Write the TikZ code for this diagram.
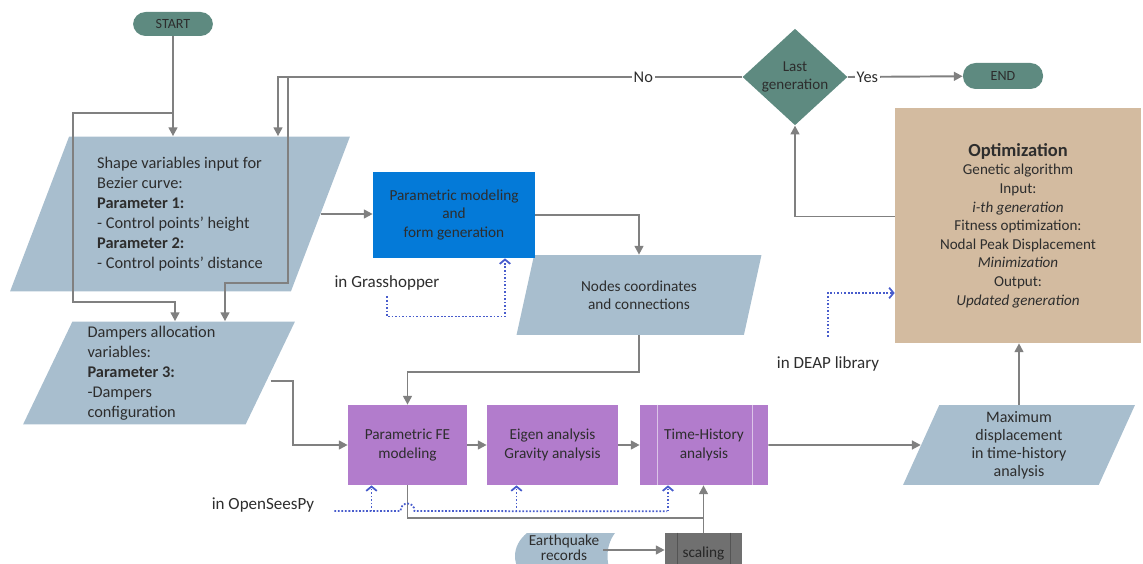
\documentclass[tikz,border=0pt]{standalone}
\usepackage{fontspec}
\setmainfont{Carlito}
\usepackage{tikz}
\usetikzlibrary{arrows.meta,positioning,calc,shapes.geometric}
\definecolor{paraBlue}{RGB}{168,190,206}
\definecolor{termTeal}{RGB}{94,138,128}
\definecolor{ghBlue}{RGB}{4,122,216}
\definecolor{feViolet}{RGB}{178,124,204}
\definecolor{optTan}{RGB}{211,187,160}
\definecolor{scaleGrey}{RGB}{112,112,112}
\definecolor{lineGrey}{RGB}{128,128,128}
\definecolor{toolBlue}{RGB}{72,92,204}
\definecolor{txtGrey}{RGB}{45,45,45}
\newcommand{\fsPara}{\fontsize{9.3}{11.4}\selectfont}
\newcommand{\fsBox}{\fontsize{8.7}{10.4}\selectfont}
\newcommand{\fsSmall}{\fontsize{8}{9.6}\selectfont}
\newcommand{\fsTool}{\fontsize{9.7}{11.4}\selectfont}
\tikzset{
  flow/.style={draw=lineGrey,line width=1.1pt,-{Triangle[length=5pt,width=5pt]}},
  link/.style={draw=lineGrey,line width=1.1pt},
  toolref/.style={draw=toolBlue,line width=1pt,densely dotted,-{Straight Barb[length=2.5pt,width=6pt]}},
  term/.style={rectangle,rounded corners=0.25cm,fill=termTeal,font=\fsSmall,inner sep=1pt},
  para/.style={trapezium,trapezium left angle=64,trapezium right angle=116,trapezium stretches body,fill=paraBlue,inner sep=2pt,font=\fsPara},
  box/.style={rectangle,inner sep=2pt,align=center,font=\fsBox},
  tool/.style={font=\fsTool}
}
\begin{document}
\begin{tikzpicture}[x=0.02cm,y=-0.02cm,every node/.style={text=txtGrey}]
\clip (0,0) rectangle (1143,564);
% terminals and decision
\node[term,minimum width=1.6cm,minimum height=0.48cm] (start) at (173,24) {START};
\node[term,minimum width=1.6cm,minimum height=0.52cm] (end) at (1003,76) {END};
\node[diamond,fill=termTeal,minimum width=2.1cm,minimum height=1.6cm,inner sep=0pt,align=center,font=\fontsize{8.6}{10.2}\selectfont] (last) at (795,77) {Last\\generation};
% inputs
\node[para,minimum width=6.8cm,minimum height=3.1cm,align=left] (shape) at (180,214) {Shape variables input for\\Bezier curve:\\\textbf{Parameter 1:}\\- Control points' height\\\textbf{Parameter 2:}\\- Control points' distance};
\node[para,minimum width=5.44cm,minimum height=2.06cm,align=left] (damp) at (159,373) {Dampers allocation\hspace*{0.3cm}\\variables:\\\textbf{Parameter 3:}\\-Dampers\\configuration};
\node[para,minimum width=4.9cm,minimum height=1.6cm,align=center,font=\fsBox] (nodes) at (639,295) {Nodes coordinates\\and connections};
\node[para,minimum width=4.64cm,minimum height=1.6cm,align=center,font=\fontsize{9.1}{10.2}\selectfont] (maxd) at (1019,445) {Maximum\\displacement\\in time-history\\analysis};
% process boxes
\node[box,fill=ghBlue,minimum width=3.24cm,minimum height=1.72cm] (gh) at (454,215) {Parametric modeling\\and\\form generation};
\node[box,fill=feViolet,minimum width=2.38cm,minimum height=1.6cm] (fe) at (407.5,445) {Parametric FE\\modeling};
\node[box,fill=feViolet,minimum width=2.62cm,minimum height=1.6cm] (eig) at (552.5,445) {Eigen analysis\\Gravity analysis};
\node[box,fill=feViolet,minimum width=2.56cm,minimum height=1.6cm] (th) at (704,445) {Time-History\\analysis};
\draw[white!55!feViolet,line width=0.5pt] ([xshift=0.36cm]th.north west) -- ([xshift=0.36cm]th.south west)
  ([xshift=-0.32cm]th.north east) -- ([xshift=-0.32cm]th.south east);
\node[box,fill=optTan,minimum width=4.92cm,minimum height=4.7cm,font=\fontsize{8.6}{10.6}\selectfont] (opt) at (1018,225.5) {{\fontsize{10.5}{13}\selectfont\textbf{Optimization}}\\Genetic algorithm\\Input:\\\textit{i-th generation}\\Fitness optimization:\\Nodal Peak Displacement\\\textit{Minimization}\\Output:\\\textit{Updated generation}};
% records and scaling
\fill[paraBlue] (527,533) -- (615,533) .. controls (605,546) and (605,566) .. (615,580) -- (527,580) .. controls (511,566) and (511,546) .. (527,533) -- cycle;
\node[box,font=\fontsize{8.7}{8.6}\selectfont] (eq) at (564,548) {Earthquake\\records};
\node[box,fill=scaleGrey,minimum width=1.54cm,minimum height=0.84cm,text=black!85] (scale) at (703.5,554) {scaling};
\draw[scaleGrey!75!black,line width=0.6pt] ([xshift=0.26cm]scale.north west) -- ([xshift=0.26cm]scale.south west)
  ([xshift=-0.24cm]scale.north east) -- ([xshift=-0.24cm]scale.south east);
% tool labels
\node[tool] (ghLbl) at (387,283) {in Grasshopper};
\node[tool] (oseLbl) at (263,505) {in OpenSeesPy};
\node[tool] (deapLbl) at (828,364) {in DEAP library};
% connectors
\coordinate (startTap) at (173,113);
\coordinate (loopA) at (278,77);
\coordinate (loopB) at (288,77);
\draw[flow] (start) -- (start |- shape.north);
\draw[flow] (startTap) -- ++(-100,0) -- ++(0,189) -| ([xshift=0.32cm]damp.north);
\draw[flow] (last.west) -- node[pos=0.213,fill=white,inner sep=1pt,font=\fsPara]{No} (loopA) -- (loopA |- shape.north);
\draw[flow] (loopB) -- ++(0,206) -| ([xshift=1.32cm]damp.north);
\draw[flow] (last.east) -- node[pos=0.17,fill=white,inner sep=1pt,font=\fsPara]{Yes} (end);
\draw[flow] (shape.east) -- (shape.east -| gh.west);
\draw[flow] (gh.east) -| (nodes.center |- nodes.north);
\draw[flow] (nodes.center |- nodes.south) -- ++(0,37) -| (fe.north);
\draw[flow] ($(damp.east)+(0,8)$) -- ++(22,0) |- (fe.west);
\draw[flow] (fe) -- (eig);
\draw[flow] (eig) -- (th);
\draw[flow] (th) -- (maxd);
\draw[flow] (maxd.center |- maxd.north) -- (maxd.center |- opt.south);
\draw[flow] ($(opt.west)+(0,-9)$) -| (last.south);
\draw[link] (fe.south) |- (scale.north |- 0,518);
\draw[flow] (scale.north) -- (scale.north |- th.south);
\draw[flow] (eq.east |- 0,550) -- (scale.west |- 0,550);
% tool references
\draw[toolref] (ghLbl.south) -- ++(0,20) -| ([xshift=1.02cm]gh.south);
\draw[toolref] ([yshift=0.28cm]deapLbl.north) |- (opt.west |- 0,293);
\coordinate (oseHop) at (fe.south |- 0,511);
\draw[toolref,-] ($(oseLbl.east)+(14,6)$) -- ($(oseHop)+(-7,0)$) .. controls +(0,-10) and +(0,-10) .. ($(oseHop)+(7,0)$) -- ($(th.south)+(-37,26)$);
\foreach \n in {fe,eig,th} \draw[toolref] ($(\n.south)+(-36,26)$) -- ($(\n.south)+(-36,0)$);
\end{tikzpicture}
\end{document}
